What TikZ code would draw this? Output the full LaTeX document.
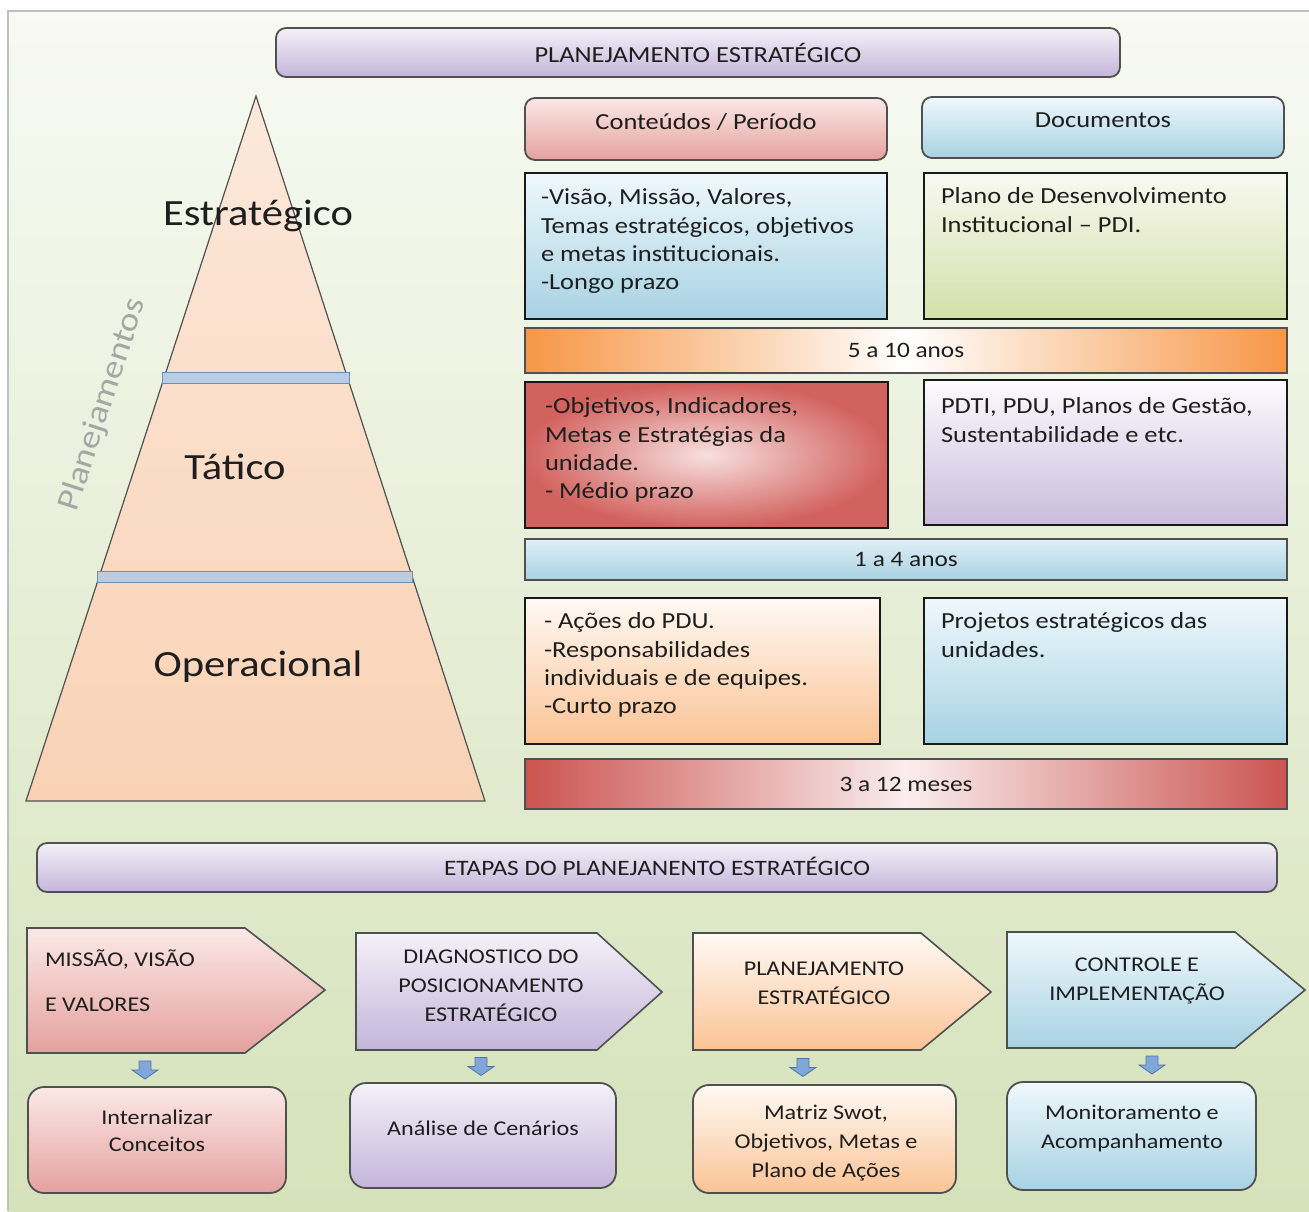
\documentclass[tikz,border=0pt]{standalone}
\usepackage{fontspec}
\setmainfont{Carlito}[FakeStretch=1.15]
\usetikzlibrary{calc}
\definecolor{bgtop}{HTML}{F8FAF3}
\definecolor{bgbot}{HTML}{D5E2BA}
\definecolor{framec}{HTML}{BFBFBF}
\definecolor{txt}{HTML}{1E1E1E}
\definecolor{purtop}{HTML}{F4F1F8}
\definecolor{purbot}{HTML}{C4B5DA}
\definecolor{pinktop}{HTML}{FBE9E7}
\definecolor{pinkbot}{HTML}{E4A19E}
\definecolor{bluetop}{HTML}{EFF8FC}
\definecolor{bluebot}{HTML}{A7D2E3}
\definecolor{bluebar}{HTML}{E0EFF7}
\definecolor{greentop}{HTML}{F8F9F1}
\definecolor{greenbot}{HTML}{D3DFA8}
\definecolor{orng}{HTML}{F79646}
\definecolor{redd}{HTML}{CB5450}
\definecolor{redbox}{HTML}{D2625E}
\definecolor{redlight}{HTML}{F7E0DF}
\definecolor{redmid}{HTML}{FAEDED}
\definecolor{peachtop}{HTML}{FFF9F4}
\definecolor{peachbot}{HTML}{FAC395}
\definecolor{lavtop}{HTML}{FCFBFE}
\definecolor{lavbot}{HTML}{C9BCDB}
\definecolor{pyrtop}{HTML}{FCE8DA}
\definecolor{pyrbot}{HTML}{F9D2B5}
\definecolor{band}{HTML}{B8CDE4}
\definecolor{bandline}{HTML}{6F8FAF}
\definecolor{edge}{HTML}{505050}
\definecolor{arrowfill}{HTML}{7FA7D9}
\definecolor{arrowline}{HTML}{4F75A8}
\definecolor{plangray}{HTML}{A6A6A6}
\begin{document}
\begin{tikzpicture}[x=1pt, y=-1pt,
  every node/.style={inner sep=0pt, outer sep=0pt, text=txt},
  sqbox/.style={rectangle, draw=black!90, line width=1.8pt, anchor=north west},
  hdbox/.style={rectangle, rounded corners=10pt, draw=edge, line width=1.8pt, anchor=north west},
  barbox/.style={rectangle, draw=edge, line width=1.6pt, anchor=north west},
  stepshape/.style={draw=edge, line width=1.6pt},
  endbox/.style={rectangle, rounded corners=16pt, draw=edge, line width=1.8pt, anchor=north west},
  bodytxt/.style={font=\fontsize{23}{28.3}\selectfont, align=left, anchor=north west},
  hdtxt/.style={font=\fontsize{23}{28}\selectfont},
  bartxt/.style={font=\fontsize{22}{26}\selectfont},
  pyrtxt/.style={font=\fontsize{37}{40}\selectfont},
  smalltxt/.style={font=\fontsize{21}{29}\selectfont, align=center},
  blk/.pic={\path[draw=arrowline, fill=arrowfill, line width=0.8pt] (-6,-9) -- (6,-9) -- (6,0) -- (13,0) -- (0,9) -- (-13,0) -- (-6,0) -- cycle;}
]
\useasboundingbox (0,0) rectangle (1309,1211);
\fill[white] (0,0) rectangle (1309,1211);
\shade[top color=bgtop, bottom color=bgbot] (8,11) rectangle (1309,1211);
\draw[framec, line width=1.5pt] (8,1211) -- (8,11) -- (1309,11);

% main header
\node[hdbox, top color=purtop, bottom color=purbot, minimum width=844pt, minimum height=49pt] (hdr) at (276,28) {};
\node[hdtxt] (hdrt) at (hdr.center) {PLANEJAMENTO ESTRATÉGICO};

% pyramid
\path[draw=edge, line width=1.2pt, top color=pyrtop, bottom color=pyrbot] (256,96) -- (485,801) -- (26,801) -- cycle;
\path[draw=bandline, fill=band, line width=1pt] (162,372) rectangle (349,383);
\path[draw=bandline, fill=band, line width=1pt] (97,571) rectangle (412,582);
\node[pyrtxt] (pe) at (258,216) {Estratégico};
\node[pyrtxt] (pt) at (235,467) {Tático};
\node[pyrtxt] (po) at (258,667) {Operacional};
\node[font=\fontsize{32}{32}\selectfont, text=plangray, rotate=72] (plan) at (103,405) {Planejamentos};

% column headers
\node[hdbox, top color=pinktop, bottom color=pinkbot, minimum width=362pt, minimum height=62pt] (hc) at (525,98) {};
\node[hdtxt] (hct) at ($(hc.north)+(0,24)$) {Conteúdos / Período};
\node[hdbox, top color=bluetop, bottom color=bluebot, minimum width=362pt, minimum height=61pt] (hd) at (922,97) {};
\node[hdtxt] (hdt) at ($(hd.north)+(0,23)$) {Documentos};

% row 1
\node[sqbox, top color=bluetop, bottom color=bluebot, minimum width=362pt, minimum height=146pt] (c1) at (525,173) {};
\node[bodytxt] (c1t) at ($(c1.north west)+(16,16)$) {-Visão, Missão, Valores,\\Temas estratégicos, objetivos\\e metas institucionais.\\-Longo prazo};
\node[sqbox, top color=greentop, bottom color=greenbot, minimum width=363pt, minimum height=146pt] (d1) at (924,173) {};
\node[bodytxt] (d1t) at ($(d1.north west)+(17,15)$) {Plano de Desenvolvimento\\Institucional – PDI.};
\node[barbox, left color=orng, right color=orng, middle color=white, minimum width=762pt, minimum height=45pt] (p1) at (525,328) {};
\node[bartxt] (p1t) at (p1.center) {5 a 10 anos};

% row 2
\node[sqbox, inner color=redlight, outer color=redbox, minimum width=363pt, minimum height=146pt] (c2) at (525,382) {};
\node[bodytxt] (c2t) at ($(c2.north west)+(20,16)$) {-Objetivos, Indicadores,\\Metas e Estratégias da\\unidade.\\- Médio prazo};
\node[sqbox, top color=lavtop, bottom color=lavbot, minimum width=363pt, minimum height=145pt] (d2) at (924,380) {};
\node[bodytxt] (d2t) at ($(d2.north west)+(17,18)$) {PDTI, PDU, Planos de Gestão,\\Sustentabilidade e etc.};
\node[barbox, top color=bluebar, bottom color=bluebot, minimum width=762pt, minimum height=41pt] (p2) at (525,539) {};
\node[bartxt] (p2t) at (p2.center) {1 a 4 anos};

% row 3
\node[sqbox, top color=peachtop, bottom color=peachbot, minimum width=355pt, minimum height=146pt] (c3) at (525,598) {};
\node[bodytxt] (c3t) at ($(c3.north west)+(19,15)$) {- Ações do PDU.\\-Responsabilidades\\individuais e de equipes.\\-Curto prazo};
\node[sqbox, top color=bluetop, bottom color=bluebot, minimum width=363pt, minimum height=146pt] (d3) at (924,598) {};
\node[bodytxt] (d3t) at ($(d3.north west)+(17,15)$) {Projetos estratégicos das\\unidades.};
\node[barbox, left color=redd, right color=redd, middle color=redmid, minimum width=762pt, minimum height=50pt] (p3) at (525,759) {};
\node[bartxt] (p3t) at (p3.center) {3 a 12 meses};

% stages header
\node[hdbox, top color=purtop, bottom color=purbot, minimum width=1240pt, minimum height=49pt] (et) at (37,843) {};
\node[bartxt] (ett) at (657,866) {ETAPAS DO PLANEJANENTO ESTRATÉGICO};

% stage arrows
\path[stepshape, top color=pinktop, bottom color=pinkbot] (27,928) -- (245,928) -- (325,990) -- (245,1053) -- (27,1053) -- cycle;
\path[stepshape, top color=purtop, bottom color=purbot] (356,933) -- (597,933) -- (662,992) -- (597,1050) -- (356,1050) -- cycle;
\path[stepshape, top color=peachtop, bottom color=peachbot] (693,933) -- (921,933) -- (991,992) -- (921,1050) -- (693,1050) -- cycle;
\path[stepshape, top color=bluetop, bottom color=bluebot] (1007,932) -- (1235,932) -- (1305,990) -- (1235,1048) -- (1007,1048) -- cycle;
\coordinate (s1b) at (145,1053);
\coordinate (s2b) at (481,1050);
\coordinate (s3b) at (803,1050);
\coordinate (s4b) at (1152,1048);
\node[smalltxt, align=left, font=\fontsize{21}{45}\selectfont, anchor=west] (s1t) at (45,981) {MISSÃO, VISÃO\\E VALORES};
\node[smalltxt] (s2t) at (491,986) {DIAGNOSTICO DO\\POSICIONAMENTO\\ESTRATÉGICO};
\node[smalltxt] (s3t) at (824,983) {PLANEJAMENTO\\ESTRATÉGICO};
\node[smalltxt] (s4t) at (1137,981) {CONTROLE E\\IMPLEMENTAÇÃO};

% result boxes
\node[endbox, top color=pinktop, bottom color=pinkbot, minimum width=258pt, minimum height=106pt] (e1) at (28,1087) {};
\node[endbox, top color=purtop, bottom color=purbot, minimum width=266pt, minimum height=105pt] (e2) at (350,1083) {};
\node[endbox, top color=peachtop, bottom color=peachbot, minimum width=263pt, minimum height=108pt] (e3) at (693,1085) {};
\node[endbox, top color=bluetop, bottom color=bluebot, minimum width=249pt, minimum height=108pt] (e4) at (1007,1082) {};
\node[smalltxt, font=\fontsize{21}{27}\selectfont] (e1t) at (157,1131) {Internalizar\\Conceitos};
\node[smalltxt] (e2t) at (483,1128) {Análise de Cenários};
\node[smalltxt] (e3t) at (826,1143) {Matriz Swot,\\Objetivos, Metas e\\Plano de Ações};
\node[smalltxt] (e4t) at (1132,1128) {Monitoramento e\\Acompanhamento};

% down arrows
\pic at ($(s1b)!0.5!(s1b |- e1.north)$) {blk};
\pic at ($(s2b)!0.5!(s2b |- e2.north)$) {blk};
\pic at ($(s3b)!0.5!(s3b |- e3.north)$) {blk};
\pic at ($(s4b)!0.5!(s4b |- e4.north)$) {blk};
\end{tikzpicture}
\end{document}
